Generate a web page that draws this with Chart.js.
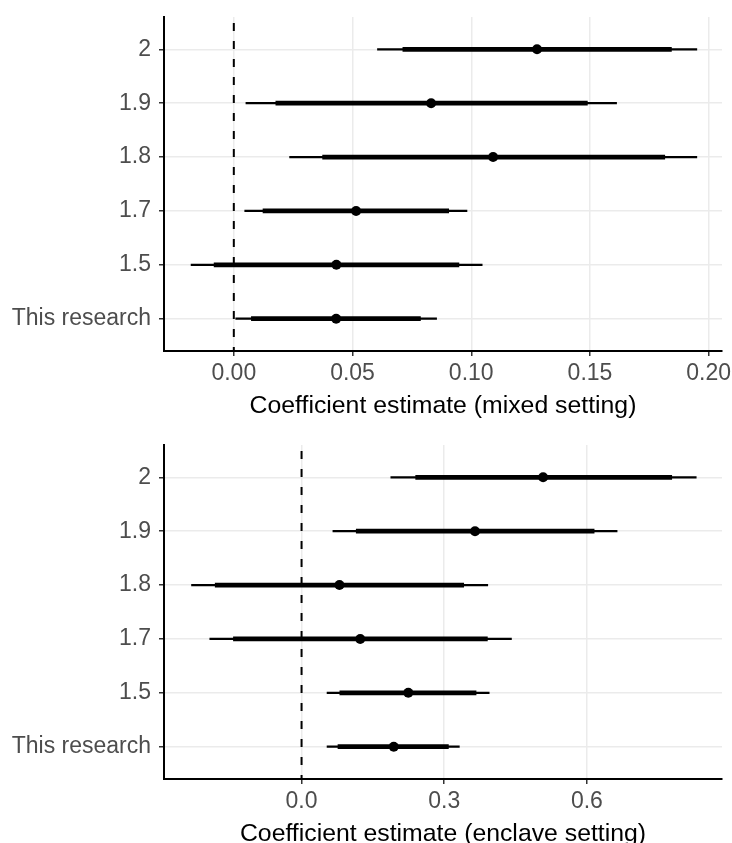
<!DOCTYPE html>
<html>
<head>
<meta charset="utf-8">
<title>Coefficient estimates</title>
<script src="https://cdn.jsdelivr.net/npm/chart.js@4.4.0/dist/chart.umd.min.js"></script>
<style>
  html, body { margin: 0; padding: 0; background: #fff; overflow: hidden; }
  body { width: 732px; height: 843px; position: relative; }
  canvas { position: absolute; left: 0; }
  #mixedChart { top: 0; }
  #enclaveChart { top: 422px; }
</style>
</head>
<body>
<canvas id="mixedChart" width="732" height="422"></canvas>
<canvas id="enclaveChart" width="732" height="432"></canvas>
<script>
const categories = ["2", "1.9", "1.8", "1.7", "1.5", "This research"];

// mixed setting
const mixedEst     = [0.1277, 0.0831, 0.1092, 0.0515, 0.0432, 0.0431];
const mixedInnerLo = [0.0712, 0.0177, 0.0374, 0.0123, -0.0083, 0.0074];
const mixedInnerHi = [0.1843, 0.1489, 0.1815, 0.0905, 0.0948, 0.0786];
const mixedOuterLo = [0.0605, 0.0051, 0.0235, 0.0046, -0.0180, 0.0008];
const mixedOuterHi = [0.1950, 0.1612, 0.1950, 0.0982, 0.1046, 0.0854];
const mixedTicks = [0, 0.05, 0.10, 0.15, 0.20];
const mixedTickLabels = ["0.00", "0.05", "0.10", "0.15", "0.20"];

// enclave setting
const enclaveEst     = [0.508, 0.3648, 0.0797, 0.1234, 0.2245, 0.1939];
const enclaveInnerLo = [0.240, 0.115, -0.1816, -0.1433, 0.0805, 0.0766];
const enclaveInnerHi = [0.7785, 0.6153, 0.341, 0.3908, 0.367, 0.3088];
const enclaveOuterLo = [0.1877, 0.0659, -0.2314, -0.193, 0.0536, 0.0536];
const enclaveOuterHi = [0.830, 0.6636, 0.3916, 0.4414, 0.3946, 0.3318];
const enclaveTicks = [0, 0.3, 0.6];
const enclaveTickLabels = ["0.0", "0.3", "0.6"];

Chart.defaults.font.family = "'Liberation Sans', Arial, Helvetica, sans-serif";
Chart.defaults.animation = false;

function drawCoefChart(id, est, innerLo, innerHi, outerLo, outerHi, xMin, xMax, ticks, tickLabels, title, padTop, padBottom) {
    const yMin = -0.6;
    const yMax = categories.length - 1 + 0.6;

    new Chart(document.getElementById(id), {
        type: 'bar',
        data: {
            datasets: [
                {
                    type: 'scatter',
                    order: 0,
                    data: est.map((v, i) => ({ x: v, y: i })),
                    pointRadius: 5,
                    pointBackgroundColor: '#000',
                    pointBorderWidth: 0
                },
                {
                    order: 1,
                    data: categories.map((c, i) => ({ x: [innerLo[i], innerHi[i]], y: i })),
                    backgroundColor: '#000',
                    barThickness: 4,
                    grouped: false
                },
                {
                    order: 2,
                    data: categories.map((c, i) => ({ x: [outerLo[i], outerHi[i]], y: i })),
                    backgroundColor: '#000',
                    barThickness: 1.7,
                    grouped: false
                },
                {
                    type: 'line',
                    order: 3,
                    data: [{ x: 0, y: yMin }, { x: 0, y: yMax }],
                    borderColor: '#000',
                    borderWidth: 2,
                    borderDash: [8, 10],
                    borderDashOffset: 12,
                    pointRadius: 0,
                    fill: false
                }
            ]
        },
        options: {
            indexAxis: 'y',
            responsive: false,
            events: [],
            layout: { padding: { top: padTop, right: 10, bottom: padBottom, left: 0 } },
            plugins: {
                legend: { display: false },
                tooltip: { enabled: false }
            },
            scales: {
                x: {
                    type: 'linear',
                    min: xMin,
                    max: xMax,
                    afterBuildTicks: axis => { axis.ticks = ticks.map(v => ({ value: v })); },
                    afterFit: axis => { axis.height = 70; axis.paddingLeft = 0; axis.paddingRight = 0; },
                    grid: { color: '#EBEBEB', lineWidth: 1.5, tickColor: '#333', tickWidth: 1.5, tickLength: 5 },
                    border: { display: true, color: '#000', width: 2 },
                    ticks: {
                        color: '#4D4D4D',
                        font: { size: 23 },
                        padding: 4,
                        maxRotation: 0,
                        callback: (v, i) => tickLabels[i]
                    },
                    title: { display: true, text: title, color: '#000', font: { size: 24.8 }, padding: 0 }
                },
                y: {
                    type: 'linear',
                    reverse: true,
                    offset: false,
                    min: yMin,
                    max: yMax,
                    afterBuildTicks: axis => { axis.ticks = categories.map((c, i) => ({ value: i })); },
                    afterFit: axis => { axis.width = 164; axis.paddingTop = 0; axis.paddingBottom = 0; },
                    grid: { offset: false, color: '#EBEBEB', lineWidth: 1.5, tickColor: '#333', tickWidth: 1.5, tickLength: 5 },
                    border: { display: true, color: '#000', width: 2 },
                    ticks: {
                        color: '#4D4D4D',
                        font: { size: 23 },
                        padding: 8,
                        callback: (v, i) => categories[i]
                    }
                }
            }
        }
    });
}

drawCoefChart('mixedChart', mixedEst, mixedInnerLo, mixedInnerHi, mixedOuterLo, mixedOuterHi,
    -0.0294, 0.2056, mixedTicks, mixedTickLabels, 'Coefficient estimate (mixed setting)', 17, 1);
drawCoefChart('enclaveChart', enclaveEst, enclaveInnerLo, enclaveInnerHi, enclaveOuterLo, enclaveOuterHi,
    -0.2893, 0.8842, enclaveTicks, enclaveTickLabels, 'Coefficient estimate (enclave setting)', 23, 5);
</script>
</body>
</html>
